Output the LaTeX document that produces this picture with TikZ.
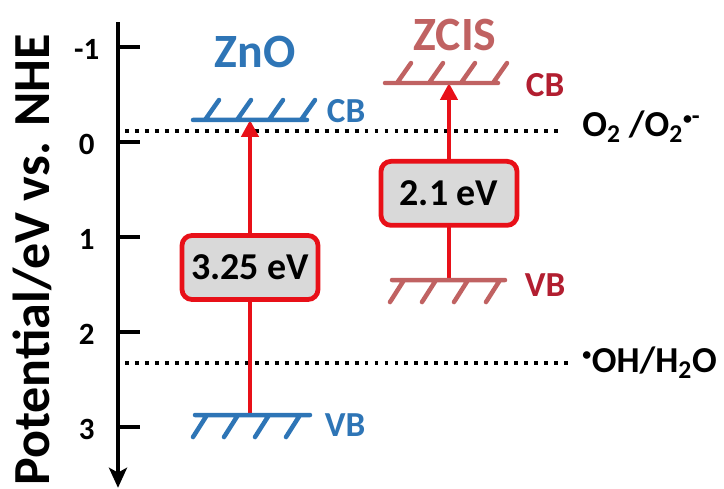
\documentclass[tikz,border=0pt]{standalone}
\usepackage{fontspec}
\setmainfont{Carlito}
\usepackage{graphicx}
\usepackage{tikz}
\usetikzlibrary{arrows.meta,positioning}
\definecolor{znocolor}{RGB}{46,117,182}
\definecolor{zciscolor}{RGB}{192,98,98}
\definecolor{zcisband}{RGB}{178,30,48}
\definecolor{gapred}{RGB}{232,16,24}
\definecolor{gapfill}{RGB}{217,217,217}

\begin{document}
\begin{tikzpicture}[x=1cm, y=-2.375cm,
    axis/.style={line width=3.4pt, -{Stealth[width=0.45cm, length=0.5cm, inset=0.12cm]}},
    axtick/.style={line width=3pt},
    ticklabel/.style={font=\fontsize{22}{26}\selectfont\bfseries},
    axistitle/.style={font=\fontsize{37}{44}\selectfont\bfseries, rotate=90, anchor=base},
    level/.style={line width=3.2pt, line cap=round},
    semilabel/.style={font=\fontsize{34}{40}\selectfont\bfseries, anchor=base},
    bandlabel/.style={font=\fontsize{25}{30}\selectfont\bfseries, anchor=base west},
    redox/.style={line width=2.8pt, dash pattern=on 2.8pt off 4.3pt},
    redoxlabel/.style={font=\fontsize{26}{30}\selectfont\bfseries, anchor=base west, inner sep=0pt},
    gaparrow/.style={-{Triangle[width=0.42cm, length=0.42cm]}, line width=3pt, gapred},
    gapbox/.style={rectangle, draw=gapred, line width=3.4pt, rounded corners=0.25cm, fill=gapfill,
        minimum width=3.4cm, minimum height=1.6cm, text=black, font=\fontsize{27}{32}\selectfont\bfseries}
]
    \useasboundingbox (-2.95,-1.4947) rectangle (15.15,3.6526);

    % Potential axis
    \coordinate (axtop) at (0,-1.263);
    \coordinate (axend) at (0,3.64);
    \draw[axis] (axtop) -- (axend);
    \draw[axtick] (0,-1) -- (0.55,-1);
    \draw[axtick] (0,0) -- (0.55,0);
    \draw[axtick] (0,1) -- (0.55,1);
    \draw[axtick] (0,2) -- (0.55,2);
    \draw[axtick] (0,3) -- (0.55,3);
    \node[ticklabel] (tminus) at (-0.78,-0.97) {-1};
    \node[ticklabel] (tzero) at (-0.78,0.03) {0};
    \node[ticklabel] (tone) at (-0.78,1.03) {1};
    \node[ticklabel] (ttwo) at (-0.78,2.03) {2};
    \node[ticklabel] (tthree) at (-0.78,3.03) {3};
    \node[axistitle] (ytitle) at (-1.7,1.24) {Potential/eV vs. NHE};

    % Redox potentials
    \coordinate (otwostart) at (0.175,-0.116);
    \coordinate (otwoend) at (11.125,-0.116);
    \coordinate (ohstart) at (0.175,2.326);
    \coordinate (ohend) at (11.25,2.326);
    \draw[redox] (otwostart) -- (otwoend);
    \draw[redox] (ohstart) -- (ohend);
    \node[redoxlabel] (otwo) at (11.6,-0.053) {O\textsubscript{2} /O\textsubscript{2}\textsuperscript{\scalebox{0.7}{\textbullet}-}};
    \node[redoxlabel] (ohwater) at (11.6,2.43) {\textsuperscript{\scalebox{0.7}{\textbullet}}OH/H\textsubscript{2}O};

    % Band gaps
    \coordinate (znocb) at (3.3,-0.232);
    \coordinate (znovb) at (3.3,2.874);
    \coordinate (zciscb) at (8.275,-0.621);
    \coordinate (zcisvb) at (8.275,1.453);
    \draw[gaparrow] (znovb) -- node[gapbox, pos=0.5] (znogap) {3.25 eV} (znocb);
    \draw[gaparrow] (zcisvb) -- node[gapbox, pos=0.44] (zcisgap) {2.1 eV} (zciscb);

    % ZnO bands
    \draw[level, znocolor] (1.875,-0.232) -- (4.725,-0.232)
        (2.175,-0.232) -- ++(0.35,-0.21) (2.975,-0.232) -- ++(0.35,-0.21)
        (3.775,-0.232) -- ++(0.35,-0.21) (4.575,-0.232) -- ++(0.35,-0.21);
    \draw[level, znocolor] (1.925,2.874) -- (4.8,2.874)
        (2.225,2.874) -- ++(-0.35,0.232) (3.0,2.874) -- ++(-0.35,0.232)
        (3.775,2.874) -- ++(-0.35,0.232) (4.55,2.874) -- ++(-0.35,0.232);

    % ZCIS bands
    \draw[level, zciscolor] (6.675,-0.621) -- (9.5,-0.621)
        (6.975,-0.621) -- ++(0.35,-0.21) (7.775,-0.621) -- ++(0.35,-0.21)
        (8.575,-0.621) -- ++(0.35,-0.21) (9.375,-0.621) -- ++(0.35,-0.21);
    \draw[level, zciscolor] (6.85,1.453) -- (9.675,1.453)
        (7.15,1.453) -- ++(-0.35,0.232) (7.95,1.453) -- ++(-0.35,0.232)
        (8.75,1.453) -- ++(-0.35,0.232) (9.55,1.453) -- ++(-0.35,0.232);

    % Labels
    \node[semilabel, text=znocolor] (zno) at (3.425,-0.779) {ZnO};
    \node[semilabel, text=zciscolor] (zcis) at (8.425,-0.968) {ZCIS};
    \node[bandlabel, text=znocolor] (znocblabel) at (5.1,-0.2) {CB};
    \node[bandlabel, text=znocolor] (znovblabel) at (5.05,3.105) {VB};
    \node[bandlabel, text=zcisband] (zciscblabel) at (10.075,-0.474) {CB};
    \node[bandlabel, text=zcisband] (zcisvblabel) at (10.05,1.63) {VB};
\end{tikzpicture}
\end{document}
